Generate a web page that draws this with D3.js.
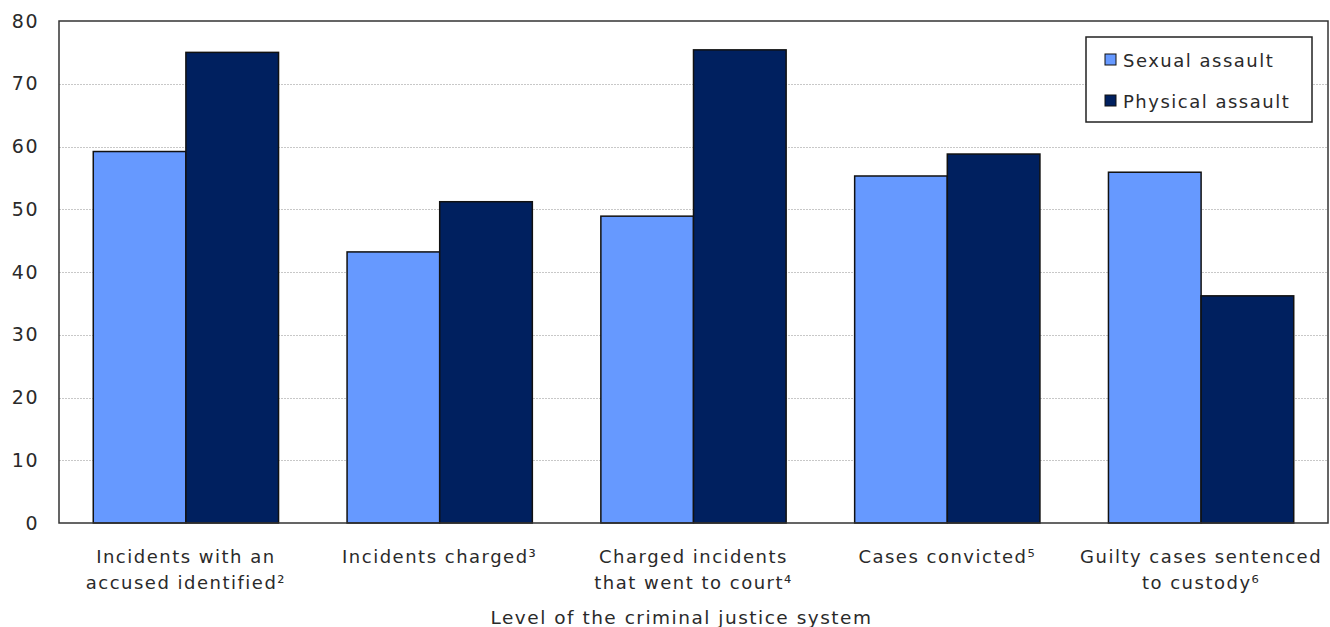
<!DOCTYPE html>
<html>
<head>
<meta charset="utf-8">
<script src="https://cdn.jsdelivr.net/npm/d3@7"></script>
<style>
  body { margin: 0; background: #fff; }
  text { font-family: "DejaVu Sans", Verdana, sans-serif; fill: #2a2a2a; letter-spacing: 1.5px; }
</style>
</head>
<body>
<div id="chart"></div>
<script>
var categories = [
  ["Incidents with an", "accused identified\u00B2"],
  ["Incidents charged\u00B3"],
  ["Charged incidents", "that went to court\u2074"],
  ["Cases convicted\u2075"],
  ["Guilty cases sentenced", "to custody\u2076"]
];
var seriesNames = ["Sexual assault", "Physical assault"];
var sexualAssault = [59.2, 43.2, 48.9, 55.3, 55.9];
var physicalAssault = [75.0, 51.2, 75.4, 58.8, 36.2];
var yTicks = [0, 10, 20, 30, 40, 50, 60, 70, 80];
var colors = ["#6699ff", "#00205f"];

var svgWidth = 1330, svgHeight = 627;
var margin = { top: 21, right: 2, bottom: 104, left: 59 };
var width = svgWidth - margin.left - margin.right;
var height = svgHeight - margin.top - margin.bottom;

var svg = d3.select("#chart")
  .append("svg")
  .attr("width", svgWidth)
  .attr("height", svgHeight);

var chartGroup = svg.append("g")
  .attr("transform", `translate(${margin.left}, ${margin.top})`);

var idx = d3.range(categories.length);

var x0 = d3.scaleBand()
  .domain(idx)
  .range([0, width])
  .paddingInner(0.27)
  .paddingOuter(0.135);

var x1 = d3.scaleBand()
  .domain([0, 1])
  .range([0, x0.bandwidth()]);

var y = d3.scaleLinear()
  .domain([0, 80])
  .range([height, 0]);

// gridlines
chartGroup.selectAll("line.grid")
  .data(yTicks.filter(d => d > 0 && d < 80))
  .enter()
  .append("line")
  .attr("class", "grid")
  .attr("x1", 0)
  .attr("x2", width)
  .attr("y1", d => Math.round(y(d)) + 0.5)
  .attr("y2", d => Math.round(y(d)) + 0.5)
  .attr("stroke", "#c8c8c8")
  .attr("stroke-width", 1)
  .attr("stroke-dasharray", "2,1");

// y axis
var leftAxis = d3.axisLeft(y).tickValues(yTicks).tickSize(0).tickPadding(20);
chartGroup.append("g")
  .call(leftAxis)
  .call(g => g.select(".domain").remove())
  .selectAll("text")
  .style("font-size", "19px")
  .style("font-family", "'DejaVu Sans', Verdana, sans-serif")
  .attr("fill", "#2a2a2a");

// bars
var groups = chartGroup.selectAll("g.cat")
  .data(idx)
  .enter()
  .append("g")
  .attr("class", "cat")
  .attr("transform", d => `translate(${x0(d)},0)`);

groups.selectAll("rect")
  .data(i => [sexualAssault[i], physicalAssault[i]])
  .enter()
  .append("rect")
  .attr("x", (d, j) => x1(j))
  .attr("y", d => y(d))
  .attr("width", x1.bandwidth())
  .attr("height", d => height - y(d))
  .attr("fill", (d, j) => colors[j])
  .attr("stroke", "#111")
  .attr("stroke-width", 1.5);

// plot frame
chartGroup.append("rect")
  .attr("x", 0)
  .attr("y", 0)
  .attr("width", width)
  .attr("height", height)
  .attr("fill", "none")
  .attr("stroke", "#333")
  .attr("stroke-width", 1.5);

// x labels
var xLabels = chartGroup.selectAll("text.xlab")
  .data(idx)
  .enter()
  .append("text")
  .attr("class", "xlab")
  .attr("text-anchor", "middle")
  .style("font-size", "18px")
  .attr("x", i => x0(i) + x0.bandwidth() / 2)
  .attr("y", height + 40);

xLabels.selectAll("tspan")
  .data(i => categories[i])
  .enter()
  .append("tspan")
  .attr("x", function() { return d3.select(this.parentNode).attr("x"); })
  .attr("dy", (d, k) => k === 0 ? 0 : 26)
  .text(d => d);

// axis title
chartGroup.append("text")
  .attr("x", width / 2 - 12)
  .attr("y", height + 101)
  .attr("text-anchor", "middle")
  .style("font-size", "18.5px")
  .text("Level of the criminal justice system");

// legend
var legend = svg.append("g")
  .attr("transform", "translate(1086, 37)");

legend.append("rect")
  .attr("width", 226)
  .attr("height", 85)
  .attr("fill", "#fff")
  .attr("stroke", "#222")
  .attr("stroke-width", 1.5);

var items = legend.selectAll("g.item")
  .data(seriesNames)
  .enter()
  .append("g")
  .attr("class", "item")
  .attr("transform", (d, i) => `translate(19, ${30 + i * 41})`);

items.append("rect")
  .attr("x", 0)
  .attr("y", -13)
  .attr("width", 11)
  .attr("height", 11)
  .attr("fill", (d, i) => colors[i])
  .attr("stroke", "#111")
  .attr("stroke-width", 1);

items.append("text")
  .attr("x", 18)
  .attr("y", 0)
  .style("font-size", "18px")
  .text(d => d);
</script>
</body>
</html>
